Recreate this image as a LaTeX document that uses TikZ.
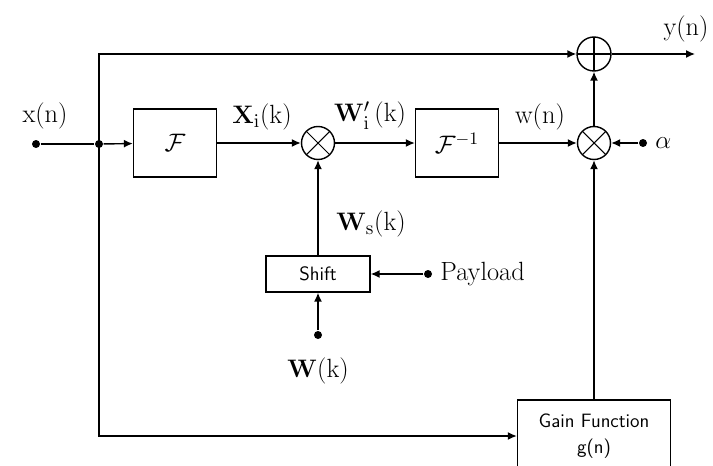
\documentclass[tikz,border=0pt]{standalone}
\usepackage{amsmath}
\usepackage{amssymb}
\usepackage{tikz}
\usetikzlibrary{arrows.meta, positioning}

\begin{document}
\begin{tikzpicture}[
    x=0.02cm, y=-0.02cm,
    >={Latex[length=1.8mm,width=1.6mm]},
    line width=0.8pt,
    wmblock/.style={draw, minimum width=1.66cm, minimum height=1.36cm, inner sep=0pt},
    wmsmall/.style={draw, font=\sffamily\fontsize{11}{13}\selectfont, inner sep=0pt},
    wmmult/.style={draw, circle, minimum size=0.66cm, inner sep=0pt,
        path picture={\draw[line width=0.6pt] (path picture bounding box.south west) -- (path picture bounding box.north east)
            (path picture bounding box.north west) -- (path picture bounding box.south east);}},
    wmadd/.style={draw, circle, minimum size=0.68cm, inner sep=0pt,
        path picture={\draw[line width=0.6pt] (path picture bounding box.south) -- (path picture bounding box.north)
            (path picture bounding box.west) -- (path picture bounding box.east);}},
    wmdot/.style={circle, fill, minimum size=0.16cm, inner sep=0pt},
    wmlabel/.style={font=\fontsize{15}{17}\selectfont, inner sep=1pt},
    wmsig/.style={->}
]
\useasboundingbox (0,0) rectangle (713,466);
\clip (0,0) rectangle (713,466);

% --- Blocks ---
\node[wmdot] (xin) at (36,144) {};
\node[wmdot] (split) at (99,144) {};
\node[wmblock] (fwd) at (175,143) {\Large$\mathcal{F}$};
\node[wmmult] (mix) at (318,143) {};
\node[wmblock] (inv) at (457,143) {\Large$\mathcal{F}^{-1}$};
\node[wmmult] (scale) at (594,143) {};
\node[wmadd] (sum) at (594,54) {};
\coordinate (yout) at (695,54);
\node[wmdot] (alpha) at (643,143) {};

\node[wmsmall, minimum width=2.08cm, minimum height=0.72cm] (shift) at (318,274) {Shift};
\node[wmdot] (payload) at (428,274) {};
\node[wmdot] (wk) at (318,335) {};

\node[wmsmall, minimum width=3.06cm, minimum height=1.44cm, align=center] (gain) at (594,436)
    {Gain Function\\[2pt]g(n)};

% --- Labels ---
\node[wmlabel] (xlab) at (45,116) {x(n)};
\node[wmlabel] (xilab) at (262,117) {$\mathbf{X}_{\mathrm{i}}$(k)};
\node[wmlabel] (wilab) at (370,116) {$\mathbf{W}_{\mathrm{i}}'$\,(k)};
\node[wmlabel] (wnlab) at (540,117) {w(n)};
\node[wmlabel] (ylab) at (686,29) {y(n)};
\node[wmlabel, right=3pt of alpha] (alab) {\Large$\alpha$};
\node[wmlabel] (wslab) at (371,224) {$\mathbf{W}_{\mathrm{s}}$(k)};
\node[wmlabel, right=3pt of payload] (plab) {Payload};
\node[wmlabel, below=9pt of wk] (wklab) {$\mathbf{W}$(k)};

% --- Signal path ---
\draw (xin) -- (split);
\draw[wmsig] (split) -- (fwd);
\draw[wmsig] (fwd) -- (mix);
\draw[wmsig] (mix) -- (inv);
\draw[wmsig] (inv) -- (scale);
\draw[wmsig] (scale) -- (sum);
\draw[wmsig] (sum) -- (yout);
\draw[wmsig] (alpha) -- (scale);

% --- Bypass and gain ---
\draw[wmsig] (split.center) |- (sum);
\draw[wmsig] (split.center) |- (gain);
\draw[wmsig] (gain) -- (scale);

% --- Watermark generation ---
\draw[wmsig] (shift) -- (mix);
\draw[wmsig] (payload) -- (shift);
\draw[wmsig] (wk) -- (shift);

\end{tikzpicture}
\end{document}
